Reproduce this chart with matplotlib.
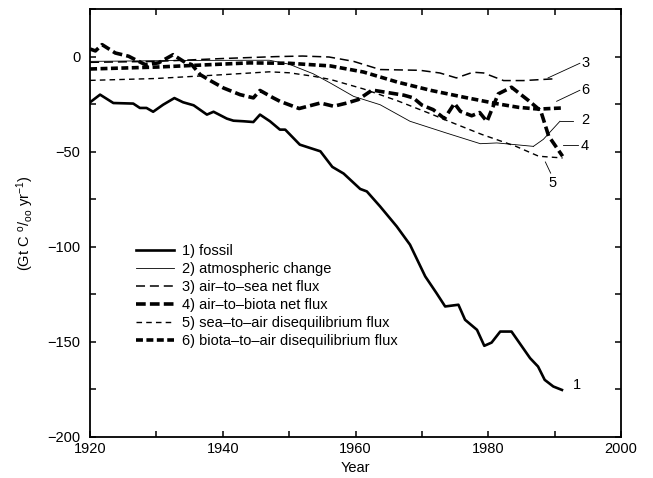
import matplotlib
matplotlib.use("Agg")
import matplotlib.pyplot as plt
from matplotlib.ticker import MultipleLocator

plt.rcParams['font.family'] = ['Liberation Sans', 'DejaVu Sans']
plt.rcParams['mathtext.default'] = 'regular'
plt.rcParams['lines.scale_dashes'] = False

# 1) fossil
yr_fossil = [1920, 1921.5, 1923.5, 1926.5, 1927.5, 1928.5, 1929.5, 1931, 1932.7, 1934,
             1935.6, 1937.6, 1938.6, 1940.6, 1941.6, 1943.1, 1944.6, 1945.6, 1947.1, 1948.6,
             1949.4, 1951.6, 1953.1, 1954.7, 1956.5, 1958.2, 1960.7, 1961.7, 1963.7, 1966.2,
             1968.2, 1970.5, 1972.2, 1973.5, 1975.5, 1976.5, 1978.3, 1979.4, 1980.5, 1981.8,
             1983.5, 1986.3, 1987.5, 1988.5, 1989.8, 1991.1]
fossil = [-24, -20, -24.4, -24.7, -27, -27, -29, -25.3, -21.8, -24,
          -25.6, -30.5, -29, -32.6, -33.7, -34, -34.4, -30.5, -34, -38.4,
          -38.4, -46.3, -48, -49.8, -58, -61.5, -69.6, -70.9, -78.8, -89.3,
          -98.9, -115.6, -124.4, -131.4, -130.5, -138.4, -143.7, -152.1, -150.4, -144.6,
          -144.6, -158.6, -163, -170, -173.5, -175.3]

# 2) atmospheric change
yr_atm = [1920, 1935, 1947, 1950, 1953.6, 1956.2, 1959.7, 1963.7, 1968.2, 1973.7,
          1978.8, 1981.3, 1986.8]
atm = [-2.5, -2, -1.9, -4, -9, -13.9, -20.9, -25.3, -34, -40.2,
       -45.8, -45.4, -47.2]

# 3) air-to-sea net flux
yr_sea = [1920, 1930, 1940, 1948, 1952, 1956, 1959.7, 1963.7, 1969.7, 1972.7,
          1975.2, 1977.7, 1979.3, 1982.3, 1985.3, 1990.3]
sea = [-3, -2.5, -1, 0, 0.3, -0.2, -2.5, -6.8, -7.2, -8.6,
       -11.2, -8.2, -8.6, -12.6, -12.6, -11.6]

# 4) air-to-biota net flux
yr_bio = [1920, 1920.8, 1921.8, 1923.8, 1925.8, 1926.8, 1928.3, 1930.3, 1932.5, 1934.3,
          1935.3, 1936.6, 1938.3, 1940.1, 1942.6, 1944.6, 1945.6, 1947.6, 1948.6, 1951.5,
          1954.7, 1956.7, 1958.7, 1960.4, 1962.5, 1967.3, 1968.7, 1970, 1971.7, 1973.4,
          1974.9, 1975.8, 1977.5, 1978.7, 1979.8, 1981.5, 1983.5, 1986.1, 1987.9, 1989.1,
          1991.2]
bio = [4, 3, 6.3, 1.9, 0.2, -1.6, -4.2, -3.3, 1, -3,
       -4.2, -9.5, -13, -16.5, -20, -21.7, -17.8, -21.7, -23.5, -27.3,
       -24.4, -26.1, -24.4, -22.6, -17.6, -20.3, -21.7, -25.5, -27.9, -32.6,
       -24.6, -28.8, -31.1, -29.4, -34.1, -19.6, -16.1, -23.2, -28.5, -41.8,
       -52.4]

# 5) sea-to-air disequilibrium flux
yr_seadis = [1920, 1930, 1940, 1947, 1950, 1953.6, 1956.2, 1961.2, 1966.3, 1971.4,
             1973.9, 1979, 1984.1, 1987.6, 1991.2]
seadis = [-12.5, -11.5, -9.5, -8, -8.5, -10.3, -12, -17, -23.2, -30.2,
          -33.8, -40.9, -47.1, -52.4, -53.3]

# 6) biota-to-air disequilibrium flux
yr_biodis = [1920, 1930, 1944, 1950, 1956.2, 1961.2, 1966.3, 1971.4, 1976.4, 1981.5,
             1984.6, 1987.6, 1991.2]
biodis = [-6.5, -5.5, -3.3, -3.5, -4.9, -8.1, -13.4, -17.8, -21.4, -24.9,
          -26.7, -27.6, -27]

labels = ["1) fossil", "2) atmospheric change", "3) air\u2013to\u2013sea net flux",
          "4) air\u2013to\u2013biota net flux", "5) sea\u2013to\u2013air disequilibrium flux",
          "6) biota\u2013to\u2013air disequilibrium flux"]

fig = plt.figure(figsize=(6.53, 4.78), dpi=100)
ax = fig.add_axes([0.138, 0.086, 0.813, 0.895])

ax.plot(yr_fossil, fossil, color='k', lw=1.9, label=labels[0])
ax.plot(yr_atm, atm, color='k', lw=0.6, label=labels[1])
ax.plot(yr_sea, sea, color='k', lw=1.1, dashes=(6.5, 3.5), label=labels[2])
ax.plot(yr_bio, bio, color='k', lw=2.6, dashes=(7, 3), label=labels[3])
ax.plot(yr_seadis, seadis, color='k', lw=1.0, dashes=(4, 3), label=labels[4])
ax.plot(yr_biodis, biodis, color='k', lw=2.6, dashes=(5, 2.5), label=labels[5])

# leader lines to curve numbers
lk = dict(color='k', lw=0.6)
ax.plot([1986.8, 1988.3, 1990.8], [-47.2, -43.5, -34], **lk)
ax.plot([1990.8, 1992.8], [-34, -34], **lk)
ax.plot([1991.2, 1993.5], [-46.6, -46.6], **lk)
ax.plot([1989, 1993.8], [-11.2, -3.5], **lk)
ax.plot([1990.3, 1993.8], [-23.5, -17.7], **lk)
ax.plot([1988.6, 1989.4], [-55.4, -61.3], **lk)

fs = 10.5
for txt, x, y in [("1", 1993.4, -172.6), ("2", 1994.6, -33.5), ("3", 1994.6, -3.3),
                  ("4", 1994.6, -46.8), ("5", 1989.7, -66.6), ("6", 1994.6, -17.4)]:
    ax.text(x, y, txt, fontsize=fs, ha='center', va='center')

ax.set_xlim(1920, 2000)
ax.set_ylim(-200, 25)
ax.xaxis.set_major_locator(MultipleLocator(20))
ax.xaxis.set_minor_locator(MultipleLocator(10))
ax.yaxis.set_major_locator(MultipleLocator(50))
ax.yaxis.set_minor_locator(MultipleLocator(25))
ax.tick_params(which='both', direction='in', top=True, right=True, length=4, width=1.1,
               labelsize=fs)
ax.tick_params(axis='y', pad=7)
ax.tick_params(axis='x', pad=4)
for s in ax.spines.values():
    s.set_linewidth(1.3)

ax.set_xlabel("Year", fontsize=fs, labelpad=3)
ax.set_ylabel(r"(Gt C $^{o}/_{oo}$ yr$^{-1}$)", fontsize=fs, labelpad=8)

ax.legend(loc='upper left', bbox_to_anchor=(0.075, 0.465), frameon=False, fontsize=fs,
          handlelength=2.6, handletextpad=0.6, labelspacing=0.28, borderaxespad=0)

fig.savefig("out.png", dpi=100)
